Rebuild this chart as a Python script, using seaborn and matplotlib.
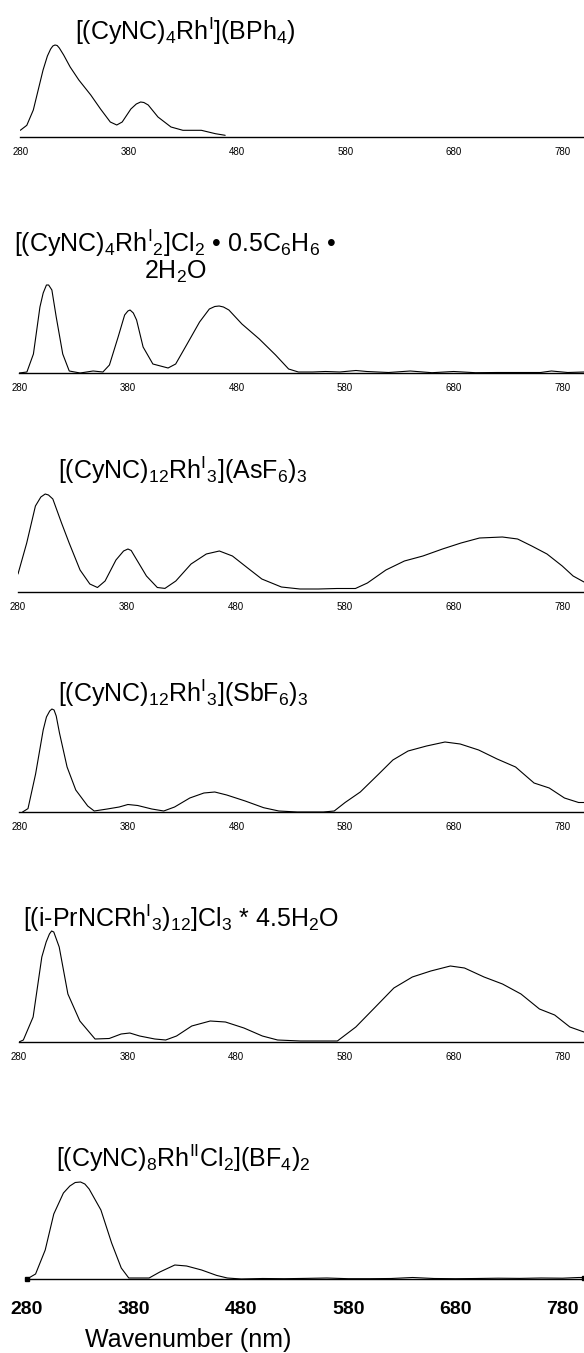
import matplotlib
matplotlib.use("Agg")
import matplotlib.pyplot as plt
import seaborn as sns
import pandas as pd

# absorption spectra, intensities in arbitrary units

wl_1 = [280, 286, 292, 301, 305, 308, 310, 312, 314, 316, 320, 326, 334, 345, 354,
        363, 369, 374, 382, 387, 391, 394, 398, 407, 419, 430, 447, 460, 469]
abs_1 = [6.7, 11.7, 27, 67, 81, 88, 91, 92, 91.5, 89, 82, 70, 57, 42, 28,
         15, 12, 15, 28, 33, 35, 34.5, 32, 20, 10, 6.7, 6.7, 3.3, 1.7]

wl_2 = [280, 287, 293, 299, 302, 305, 307, 310, 314, 320, 326, 336, 348, 357, 363,
        371, 377, 380, 382, 385, 388, 394, 403, 417, 424, 434, 446, 455, 460, 464,
        468, 473, 485, 501, 516, 528, 537, 550, 562, 575, 590, 600, 620, 640, 660,
        680, 700, 720, 740, 760, 770, 785, 800]
abs_2 = [0, 1, 19, 66, 80, 88, 88, 83, 56, 19, 2, 0, 2, 1, 8,
         36, 58, 62, 63, 60, 53, 26, 9, 5, 9, 28, 51, 64, 66.5, 67,
         66, 63, 49, 34, 18, 4, 1, 1, 1.5, 1, 2.5, 1.5, 0.5, 2, 0.3,
         1.5, 0.3, 0.5, 0.5, 0.5, 2, 0.5, 1]

wl_3 = [280, 288, 296, 301, 305, 308, 312, 320, 327, 337, 346, 353, 360, 370, 377,
        381, 384, 387, 398, 408, 415, 425, 439, 453, 465, 477, 491, 504, 522, 539,
        556, 573, 590, 601, 618, 635, 652, 670, 687, 704, 725, 739, 752, 766, 780,
        790, 800]
abs_3 = [18, 49, 86, 95, 98, 97, 93, 69, 49, 22, 8, 4.5, 11, 32, 41,
         43, 41.5, 36, 16, 4.5, 3.6, 11, 28, 38, 41, 36, 24, 13, 5, 3,
         3, 3.5, 3.5, 9, 22, 31, 36, 43, 49, 54, 55, 53, 46, 38, 26,
         16, 10]

wl_4 = [283, 288, 295, 302, 305, 308, 310, 312, 314, 317, 324, 332, 343, 349, 361,
        372, 380, 389, 402, 413, 423, 437, 450, 460, 471, 488, 505, 519, 536, 560,
        570, 580, 594, 611, 624, 638, 655, 672, 686, 703, 720, 737, 754, 768, 782,
        795, 800]
abs_4 = [0, 3.4, 38, 82, 95, 101, 103, 102, 96, 79, 45, 22, 6, 1, 3,
         5, 7.5, 6.5, 3, 1, 5, 14, 19, 20, 17, 11, 4.3, 1, 0, 0,
         1, 9.5, 20, 38, 52, 61, 66, 70, 68, 62, 53, 45, 29, 24, 14,
         9.5, 9.5]

wl_5 = [280, 284, 293, 301, 305, 308, 310, 312, 314, 317, 325, 336, 350, 363, 374,
        382, 391, 405, 415, 425, 439, 456, 470, 487, 504, 518, 539, 566, 573, 590,
        608, 625, 642, 659, 677, 690, 708, 725, 742, 759, 773, 787, 800]
abs_5 = [0, 2, 25, 85, 100, 108, 111, 110, 104, 95, 48, 21, 3, 3.5, 8,
         9, 6, 3, 2, 6, 16, 21, 20, 14, 6, 2, 1, 1, 1, 15,
         35, 54, 65, 71, 76, 74, 65, 58, 48, 33, 27, 15, 10]

wl_6 = [280, 288, 297, 305, 314, 320, 325, 330, 334, 338, 349, 359, 368, 375, 394,
        404, 418, 429, 443, 457, 467, 480, 500, 520, 540, 560, 580, 600, 620, 640,
        660, 680, 700, 720, 740, 760, 780, 795, 800]
abs_6 = [0, 5, 29, 65, 86, 93, 96.5, 97, 95, 90, 69, 36, 11, 1, 1,
         7, 14, 13, 9, 3.6, 1, 0, 0.5, 0.3, 0.6, 1, 0.3, 0.3, 0.5, 1.5,
         0.5, 0.3, 0.5, 0.8, 0.6, 1, 0.8, 1.5, 1.5]

titles = [
    r"$\mathregular{[(CyNC)_4Rh^I](BPh_4)}$",
    r"$\mathregular{[(CyNC)_4Rh^I{}_2]Cl_2\ •\ 0.5C_6H_6\ •}$" + "\n" + r"$\mathregular{2H_2O}$",
    r"$\mathregular{[(CyNC)_{12}Rh^I{}_3](AsF_6)_3}$",
    r"$\mathregular{[(CyNC)_{12}Rh^I{}_3](SbF_6)_3}$",
    r"$\mathregular{[(i\text{-}PrNCRh^I{}_3)_{12}]Cl_3\ {*}\ 4.5H_2O}$",
    r"$\mathregular{[(CyNC)_8Rh^{II}Cl_2](BF_4)_2}$",
]
ticks = [280, 380, 480, 580, 680, 780]

spectra = [(wl_1, abs_1), (wl_2, abs_2), (wl_3, abs_3),
           (wl_4, abs_4), (wl_5, abs_5), (wl_6, abs_6)]

sns.set_style("white")
plt.rcParams["font.family"] = ["Liberation Sans", "DejaVu Sans"]
plt.rcParams["mathtext.fontset"] = "custom"
plt.rcParams["mathtext.rm"] = "Liberation Sans"
plt.rcParams["mathtext.it"] = "Liberation Sans"
plt.rcParams["text.color"] = "black"
plt.rcParams["xtick.color"] = "black"
plt.rcParams["xtick.labelcolor"] = "black"

W, H = 584, 1353
fig = plt.figure(figsize=(W / 100, H / 100), dpi=100)

# pixel layout: axis line y, left edge (at 280 nm), title x/y
axis_y = [137, 373, 592, 812, 1042, 1279]
left_x = [20.3, 19.3, 18, 19.3, 19, 27]
title_pos = [(75, 31, "left"), (175, 256, "center"), (58, 470, "left"),
             (58, 693, "left"), (23, 918, "left"), (56, 1158, "left")]
ax_h = 130

for i, (wl, ab) in enumerate(spectra):
    bottom = 1 - axis_y[i] / H
    ax = fig.add_axes([left_x[i] / W, bottom, (W - left_x[i]) / W, ax_h / H])
    ax.patch.set_alpha(0)
    df = pd.DataFrame({"wl": wl, "a": ab})
    last = i == len(spectra) - 1
    sns.lineplot(data=df, x="wl", y="a", ax=ax, color="black", lw=0.8,
                 sort=False, estimator=None)
    if last:
        ax.plot([wl[0], wl[-1]], [ab[0], ab[-1]], "s", color="black", ms=2.5,
                clip_on=False)
    ax.set_xlim(280, 800)
    ax.set_ylim(0, ax_h)
    for s in ["left", "top", "right"]:
        ax.spines[s].set_visible(False)
    ax.spines["bottom"].set_linewidth(1.0)
    ax.spines["bottom"].set_color("black")
    ax.set_yticks([])
    ax.set_xticks(ticks)
    ax.set_xlabel("")
    ax.set_ylabel("")
    if last:
        ax.tick_params(axis="x", length=5, width=0.9, pad=11, labelsize=14,
                       direction="out", color="black")
        for t in ax.get_xticklabels():
            t.set_fontweight("bold")
    else:
        ax.tick_params(axis="x", length=2.5, width=0.7, pad=4.5, labelsize=7,
                       direction="out", color="black")
    tx, ty, ha = title_pos[i]
    fig.text(tx / W, 1 - ty / H, titles[i], fontsize=18, ha=ha, va="center",
             multialignment="center", linespacing=1.0)

fig.text(188 / W, 1 - 1340 / H, "Wavenumber (nm)", fontsize=18, ha="center",
         va="center")

fig.savefig("out.png", dpi=100)
